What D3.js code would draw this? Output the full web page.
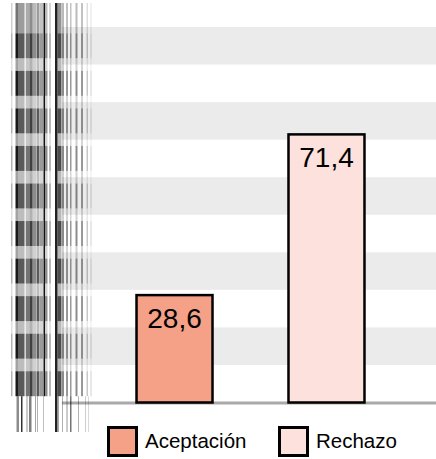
<!DOCTYPE html>
<html><head><meta charset="utf-8">
<script src="https://cdn.jsdelivr.net/npm/d3@7"></script>
<style>html,body{margin:0;padding:0;background:#fff;}svg{display:block;}</style>
</head><body>
<svg id="chart" width="436" height="459"></svg>
<script>
// ---- data ----
const categories = ["Aceptación", "Rechazo"];
const values = [28.6, 71.4];
const valueLabels = ["28,6", "71,4"];
const yTicks = [0, 10, 20, 30, 40, 50, 60, 70, 80, 90, 100];
const rowMids = [5, 15, 25, 35, 45, 55, 65, 75, 85, 95];

// ---- styles ----
const fills = ["#f4a187", "#fde1dc"];
const plot = {left: 62, right: 436, top: 27, bottom: 402.5};

// decorative left-edge stripe pattern (x, width, darkness)
const stripes = [
  [11,1.5,0.3],[15.5,2.5,0.9],[18,6,0.65],[24,1.5,0.35],[26,3.5,0.55],[29.5,3,0.75],
  [32.5,3.5,0.45],[36.5,3,0.65],[40,3,0.4],[45,2.5,0.45],[49,2,0.28],[57.5,4,0.7],
  [62,2,0.45],[66,2,0.4],[70,1.5,0.4],[75.5,2,0.45],[81,2,0.4],[86.5,1.5,0.22],[90.5,1,0.18]
];
const bottomStripes = [
  [16.5,2.5,0.45],[21,1.5,0.8],[26.5,1,0.4],[29,2.5,0.5],[35,1,0.35],[37,1,0.3],
  [43,1,0.25],[58,1,0.35],[62,1,0.3],[66.5,1,0.4],[70,1.5,0.55],[78,1,0.3],[85,1,0.2],[88,1,0.15]
];

const svg = d3.select("#chart");

const x = d3.scaleBand().domain(categories).range([62.5, 438.5])
  .paddingInner(0.5).paddingOuter(0.487);
const y = d3.scaleLinear().domain([0, 100]).range([plot.bottom, plot.top]);

// alternating grid bands
const bandPairs = d3.pairs(yTicks).filter((p, i) => i % 2 === 1);
svg.append("g").selectAll("rect").data(bandPairs).join("rect")
  .attr("x", plot.left).attr("width", plot.right - plot.left)
  .attr("y", d => y(d[1])).attr("height", d => y(d[0]) - y(d[1]))
  .attr("fill", "#ebebeb");

// axis baseline
svg.append("line").attr("x1", plot.left).attr("x2", plot.right)
  .attr("y1", y(0) + 0.5).attr("y2", y(0) + 0.5)
  .attr("stroke", "#a9a9a9").attr("stroke-width", 3);

// left stripe artifact, segmented by rows
const segs = [{y0: 3, y1: y(95) - 12.5, f: 0.6}];
rowMids.slice().reverse().forEach((m, i, arr) => {
  segs.push({y0: y(m) - 12.5, y1: y(m) + 12.5, f: 1});
  if (i < arr.length - 1) segs.push({y0: y(m) + 12.5, y1: y(arr[i + 1]) - 12.5, f: 0.4});
});
const sg = svg.append("g");
segs.forEach(s => {
  sg.append("g").selectAll("rect").data(stripes).join("rect")
    .attr("x", d => d[0]).attr("width", d => d[1])
    .attr("y", s.y0).attr("height", s.y1 - s.y0)
    .attr("fill", "#000").attr("fill-opacity", d => d[2] * s.f);
});
const botY0 = y(5) + 12.5, botY1 = 432;
sg.append("g").selectAll("rect").data(bottomStripes).join("rect")
  .attr("x", d => d[0]).attr("width", d => d[1])
  .attr("y", botY0).attr("height", botY1 - botY0)
  .attr("fill", "#000").attr("fill-opacity", d => d[2]);
sg.append("rect").attr("x", 43.5).attr("width", 1.5).attr("y", 3).attr("height", botY0 - 3).attr("fill", "#111");
sg.append("rect").attr("x", 55).attr("width", 2.5).attr("y", 3).attr("height", botY1 - 3).attr("fill", "#222");

// bars
svg.append("g").selectAll("rect").data(values).join("rect")
  .attr("x", (d, i) => x(categories[i])).attr("width", x.bandwidth())
  .attr("y", d => y(d)).attr("height", d => y(0) - y(d))
  .attr("fill", (d, i) => fills[i]).attr("stroke", "#000").attr("stroke-width", 2.5);

// value labels
svg.append("g").selectAll("text").data(values).join("text")
  .attr("x", (d, i) => x(categories[i]) + x.bandwidth() / 2)
  .attr("y", d => y(d) + 33)
  .attr("text-anchor", "middle")
  .attr("font-family", "Liberation Sans, Arial, sans-serif").attr("font-size", 28)
  .attr("fill", "#000").text((d, i) => valueLabels[i]);

// legend
const legendX = [108.5, 279.5];
const lg = svg.append("g").selectAll("g").data(categories).join("g")
  .attr("transform", (d, i) => `translate(${legendX[i]},427.5)`);
lg.append("rect").attr("width", 28).attr("height", 28)
  .attr("fill", (d, i) => fills[i]).attr("stroke", "#000").attr("stroke-width", 3);
lg.append("text").attr("x", 36.5).attr("y", 20)
  .attr("font-family", "Liberation Sans, Arial, sans-serif").attr("font-size", 20.5)
  .attr("fill", "#000").text(d => d);
</script>
</body></html>
